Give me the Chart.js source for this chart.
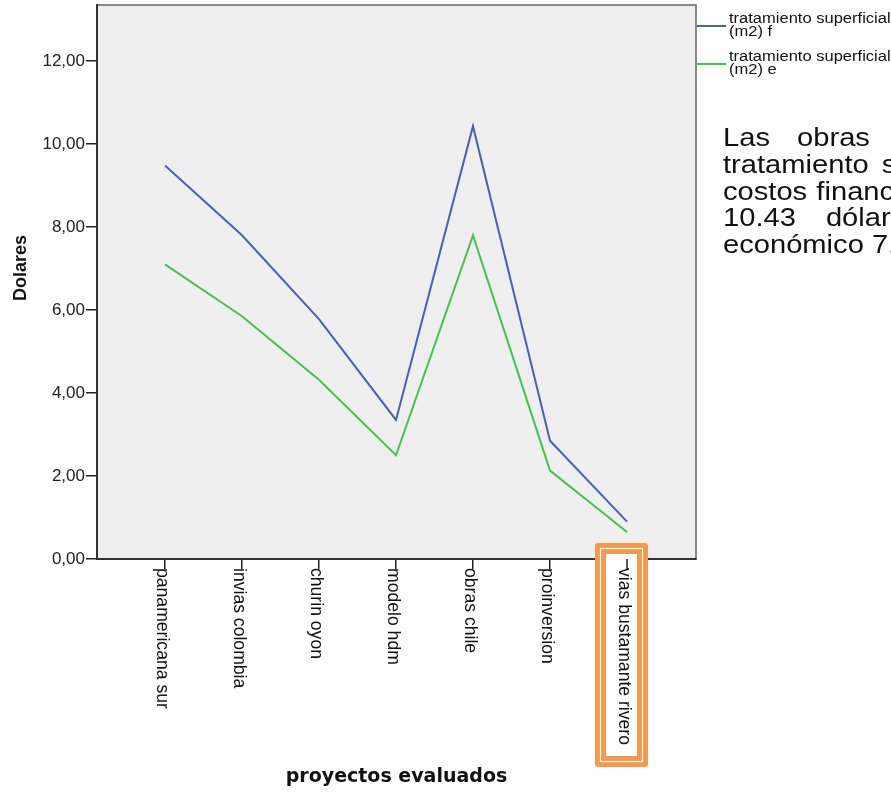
<!DOCTYPE html>
<html>
<head>
<meta charset="utf-8">
<script src="https://cdn.jsdelivr.net/npm/chart.js@4.4.1/dist/chart.umd.min.js"></script>
<style>
  body { margin: 0; background: #fff; overflow: hidden; width: 891px; height: 792px; position: relative; }
  #c { position: absolute; left: 0; top: 0; }
  #nota {
    position: absolute; left: 723px; top: 124px;
    font-family: 'Liberation Sans', Arial, sans-serif; font-size: 26px; line-height: 26.75px;
    color: #111; white-space: nowrap; transform: scaleX(1.12); transform-origin: 0 0;
  }
</style>
</head>
<body>
<canvas id="c" width="891" height="792"></canvas>
<div id="nota">
  <div style="word-spacing:17px">Las obras con mayor costo de</div>
  <div style="word-spacing:4.4px">tratamiento superficial tienen</div>
  <div style="word-spacing:1px">costos financieros de hasta</div>
  <div style="word-spacing:19.6px">10.43 dólares y un costo</div>
  <div>económico 7.80 dólares.</div>
</div>
<script>
const categories = ['panamericana sur', 'invias colombia', 'churin oyon', 'modelo hdm', 'obras chile', 'proinversion', 'vias bustamante rivero'];
const seriesF = [9.48, 7.80, 5.78, 3.35, 10.43, 2.85, 0.90];
const seriesE = [7.10, 5.85, 4.32, 2.50, 7.80, 2.13, 0.65];
const yTicks = [0, 2, 4, 6, 8, 10, 12];
const seriesLabels = [['tratamiento superficial', '(m2) f'], ['tratamiento superficial', '(m2) e']];
const highlighted = 'vias bustamante rivero';

const blue = '#4a60b2';
const green = '#45c24f';

// plot background + frame
const plotBg = {
  id: 'plotBg',
  beforeDraw(chart) {
    const {ctx, chartArea: a} = chart;
    ctx.save();
    ctx.fillStyle = '#efefef';
    ctx.fillRect(a.left, a.top, a.right - a.left, a.bottom - a.top);
    ctx.strokeStyle = '#666';
    ctx.lineWidth = 1.5;
    ctx.strokeRect(a.left, a.top, a.right - a.left, a.bottom - a.top);
    ctx.restore();
  }
};

// rotated category labels, orange box, legend
const extras = {
  id: 'extras',
  afterDraw(chart) {
    const {ctx} = chart;
    const x = chart.scales.x;
    const bottom = chart.chartArea.bottom;

    // orange highlight box
    const hx = x.getPixelForValue(categories.indexOf(highlighted));
    const bx = hx - 32, by = 543, bw = 53, bh = 224;
    ctx.save();
    ctx.fillStyle = '#f6994c';
    ctx.beginPath();
    ctx.roundRect(bx, by, bw, bh, 3);
    ctx.fill();
    ctx.fillStyle = '#fff';
    ctx.fillRect(bx + 11, by + 11, bw - 22, bh - 22);
    ctx.strokeStyle = '#fff';
    ctx.lineWidth = 1.2;
    ctx.strokeRect(bx + 5.5, by + 5.5, bw - 11, bh - 11);
    ctx.strokeStyle = '#222';
    ctx.lineWidth = 1.5;
    ctx.beginPath();
    ctx.moveTo(hx, bottom);
    ctx.lineTo(hx, bottom + 10);
    ctx.stroke();
    ctx.restore();

    // category labels, reading top to bottom
    ctx.save();
    ctx.fillStyle = '#111';
    ctx.font = '17.6px "Liberation Sans", Arial, sans-serif';
    ctx.textAlign = 'left';
    ctx.textBaseline = 'middle';
    categories.forEach((c, i) => {
      const px = x.getPixelForValue(i);
      ctx.save();
      ctx.translate(px - 3, bottom + 9);
      ctx.rotate(Math.PI / 2);
      ctx.fillText(c, 0, 0);
      ctx.restore();
    });
    ctx.restore();

    // legend
    ctx.save();
    chart.data.datasets.forEach((ds, k) => {
      const y0 = 26 + k * 38;
      ctx.strokeStyle = ds.borderColor;
      ctx.lineWidth = 2;
      ctx.beginPath();
      ctx.moveTo(697, y0);
      ctx.lineTo(726, y0);
      ctx.stroke();
      ctx.save();
      ctx.translate(729, y0);
      ctx.scale(1.18, 1);
      ctx.fillStyle = '#111';
      ctx.font = '14px "Liberation Sans", Arial, sans-serif';
      ctx.textBaseline = 'middle';
      ctx.fillText(seriesLabels[k][0], 0, -6.5);
      ctx.fillText(seriesLabels[k][1], 0, 6.5);
      ctx.restore();
    });
    ctx.restore();

    // y title
    ctx.save();
    ctx.translate(21, 268);
    ctx.rotate(-Math.PI / 2);
    ctx.fillStyle = '#111';
    ctx.font = 'bold 18px "Liberation Sans", Arial, sans-serif';
    ctx.textAlign = 'center';
    ctx.textBaseline = 'middle';
    ctx.fillText('Dolares', 0, 0);
    ctx.restore();
  }
};

new Chart(document.getElementById('c'), {
  type: 'line',
  data: {
    datasets: [{
      label: seriesLabels[0].join(' '),
      data: seriesF.map((v, i) => ({x: i, y: v})),
      borderColor: blue,
      borderWidth: 2,
      pointRadius: 0,
      tension: 0
    }, {
      label: seriesLabels[1].join(' '),
      data: seriesE.map((v, i) => ({x: i, y: v})),
      borderColor: green,
      borderWidth: 2,
      pointRadius: 0,
      tension: 0
    }]
  },
  options: {
    responsive: false,
    animation: false,
    layout: { padding: { left: 0, right: 195, top: 5, bottom: 0 } },
    plugins: { legend: { display: false }, tooltip: { enabled: false } },
    scales: {
      x: {
        type: 'linear',
        min: -0.883,
        max: 6.896,
        afterBuildTicks: s => { s.ticks = categories.map((c, i) => ({value: i})); },
        afterFit: s => { s.height = 233; s.paddingLeft = 0; s.paddingRight = 0; },
        ticks: { display: false },
        grid: { drawOnChartArea: false, drawTicks: true, tickLength: 10, color: '#222', lineWidth: 1.5 },
        border: { display: true, color: '#333', width: 2 },
        title: {
          display: true,
          text: 'proyectos evaluados',
          color: '#111',
          font: { family: '"DejaVu Sans", Verdana, sans-serif', size: 19, weight: 'bold' },
          padding: { top: 0, bottom: 4 }
        }
      },
      y: {
        min: 0,
        max: 13.35,
        afterBuildTicks: s => { s.ticks = yTicks.map(v => ({value: v})); },
        afterFit: s => { s.width = 97; s.paddingTop = 0; s.paddingBottom = 0; },
        ticks: {
          color: '#222',
          padding: 1,
          font: { family: '"Liberation Sans", Arial, sans-serif', size: 17 },
          callback: v => v.toFixed(2).replace('.', ',')
        },
        grid: { drawOnChartArea: false, drawTicks: true, tickLength: 11, color: '#222', lineWidth: 1.5 },
        border: { display: true, color: '#333', width: 2 },
        title: { display: false }
      }
    }
  },
  plugins: [plotBg, extras]
});
</script>
</body>
</html>
